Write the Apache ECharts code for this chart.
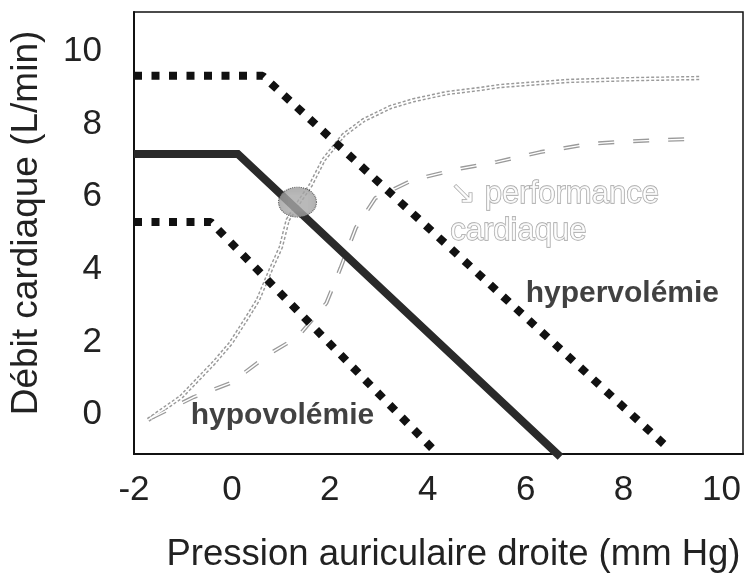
<!DOCTYPE html>
<html>
<head>
<meta charset="utf-8">
<script src="https://cdn.jsdelivr.net/npm/echarts@6/dist/echarts.min.js"></script>
<style>
  html, body { margin: 0; padding: 0; background: #fff; }
  #chart { width: 747px; height: 581px; }
</style>
</head>
<body>
<div id="chart"></div>
<script>
// courbes de retour veineux (plateau puis droite)
const retourNormal = [[-2, 7.18], [0.12, 7.18], [6.71, -1.17]]
const retourHyper = [[-2, 9.33], [0.63, 9.33], [8.89, -0.9]]
const retourHypo = [[-2, 5.3], [-0.43, 5.3], [4.16, -1.03]]

// courbes de performance cardiaque
const perfNormale = [
  [-1.71, -0.15], [-1.04, 0.48], [-0.37, 1.42], [-0.02, 1.97], [0.32, 2.69],
  [0.53, 3.15], [0.79, 3.98], [1.0, 4.61], [1.14, 5.36], [1.4, 5.91],
  [1.61, 6.32], [1.87, 7.01], [2.28, 7.7], [2.69, 8.11], [3.24, 8.47],
  [3.71, 8.66], [4.4, 8.86], [5.07, 8.97], [5.48, 9.05], [6.85, 9.19],
  [8.19, 9.24], [9.56, 9.27]
]
const perfBaisse = [
  [-1.65, -0.1], [-0.78, 0.48], [-0.02, 0.87], [0.79, 1.69], [1.34, 2.13],
  [1.93, 3.07], [2.22, 4.04], [2.53, 5.14], [2.93, 5.96], [3.69, 6.46],
  [4.61, 6.76], [5.42, 6.96], [6.3, 7.23], [7.28, 7.45], [7.89, 7.51],
  [8.7, 7.56], [9.45, 7.59]
]

// point d'équilibre
const equilibre = [[1.34, 5.85]]

const xTicks = [-2, 0, 2, 4, 6, 8, 10]
const yTicks = [0, 2, 4, 6, 8, 10]

// textes posés sur le graphique (coordonnées des données)
const annotations = [
  { text: 'hypervolémie', x: 6.0, y: 3.32, kind: 'bold' },
  { text: 'hypovolémie', x: -0.84, y: -0.04, kind: 'bold' },
  { text: '↘ performance', x: 4.46, y: 6.07, kind: 'hollow' },
  { text: 'cardiaque', x: 4.46, y: 5.03, kind: 'hollow' }
]

const font = 'Liberation Sans, Arial, sans-serif'

// motif pointillé du cercle d'équilibre
function dotPattern() {
  const c = document.createElement('canvas')
  c.width = 4
  c.height = 4
  const g = c.getContext('2d')
  g.fillStyle = '#a8a8a8'
  g.fillRect(0, 0, 4, 4)
  g.fillStyle = '#111'
  g.beginPath()
  g.arc(2, 2, 1.3, 0, Math.PI * 2)
  g.fill()
  return c
}

function lineSeries(data, style, z) {
  return {
    type: 'line',
    data: data,
    symbol: 'none',
    clip: false,
    silent: true,
    z: z,
    lineStyle: style
  }
}

const labelStyles = {
  bold: { color: '#111', fontSize: 30, fontWeight: 'bold', fontFamily: font },
  hollow: {
    color: '#fff', fontSize: 31, fontFamily: font,
    textBorderColor: '#8a8a8a', textBorderWidth: 1.3
  }
}

const option = {
  animation: false,
  grid: {
    left: 133, top: 12, right: 4, bottom: 127,
    show: true, borderColor: '#111', borderWidth: 1.5
  },
  xAxis: {
    type: 'value',
    min: -2,
    max: 10.44,
    name: 'Pression auriculaire droite (mm Hg)',
    nameLocation: 'middle',
    nameGap: 82,
    nameTextStyle: { fontSize: 36.5, fontFamily: font, color: '#222', padding: [0, 0, 0, 30] },
    axisLine: { show: true, onZero: false, lineStyle: { color: '#111', width: 2 } },
    axisTick: { show: false },
    splitLine: { show: false },
    axisLabel: {
      customValues: xTicks,
      margin: 19,
      fontSize: 35,
      fontFamily: font,
      color: '#222'
    }
  },
  yAxis: {
    type: 'value',
    min: -1.09,
    max: 11.09,
    name: 'Débit cardiaque (L/min)',
    nameLocation: 'middle',
    nameGap: 89,
    nameTextStyle: { fontSize: 37, fontFamily: font, color: '#222', padding: [0, 0, 0, 20] },
    axisLine: { show: true, onZero: false, lineStyle: { color: '#111', width: 2 } },
    axisTick: { show: false },
    splitLine: { show: false },
    axisLabel: {
      customValues: yTicks,
      margin: 32,
      fontSize: 35,
      fontFamily: font,
      color: '#222'
    }
  },
  series: [
    // performance normale : double trait gris
    lineSeries(perfNormale, { color: '#9a9a9a', width: 4.5, type: [3, 2] }, 2),
    lineSeries(perfNormale, { color: '#fff', width: 1.6 }, 3),
    // performance diminuée : tirets
    lineSeries(perfBaisse, { color: '#9a9a9a', width: 4, type: [16, 19] }, 2),
    lineSeries(perfBaisse, { color: '#fff', width: 1.4 }, 3),
    // retour veineux normal
    lineSeries(retourNormal, { color: '#2a2a2a', width: 8, cap: 'butt', join: 'miter' }, 4),
    // hypervolémie / hypovolémie : carrés
    lineSeries(retourHyper, { color: '#111', width: 8, type: [8, 9.5], cap: 'butt' }, 5),
    lineSeries(retourHypo, { color: '#111', width: 8, type: [8, 9.5], cap: 'butt' }, 5),
    {
      type: 'scatter',
      data: equilibre,
      symbol: 'circle',
      symbolSize: [38, 30],
      silent: true,
      z: 6,
      itemStyle: {
        color: { image: dotPattern(), repeat: 'repeat' },
        borderColor: '#333',
        borderWidth: 1,
        borderType: 'dotted'
      }
    },
    {
      type: 'scatter',
      symbolSize: 0,
      silent: true,
      z: 7,
      data: annotations.map(a => ({
        value: [a.x, a.y],
        name: a.text,
        label: Object.assign({ show: true, position: 'right', distance: 0, formatter: '{b}' }, labelStyles[a.kind])
      }))
    }
  ]
}

echarts.init(document.getElementById('chart'), null, { renderer: 'canvas' }).setOption(option)
</script>
</body>
</html>
